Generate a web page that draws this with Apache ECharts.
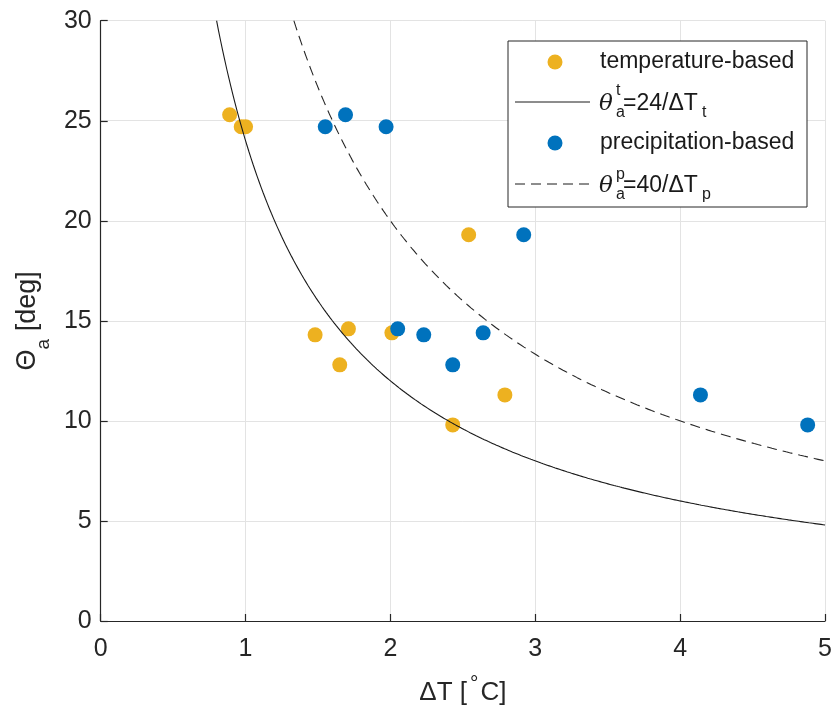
<!DOCTYPE html>
<html>
<head>
<meta charset="utf-8">
<script src="https://cdn.jsdelivr.net/npm/echarts@6/dist/echarts.min.js"></script>
<style>html,body{margin:0;padding:0;background:#fff}#c{width:835px;height:711px}</style>
</head>
<body>
<div id="c"></div>
<script>
// ---- data ----
var tempX = [0.89, 0.97, 1.00, 2.54, 1.48, 1.71, 2.01, 1.65, 2.79, 2.43];
var tempY = [25.3, 24.7, 24.7, 19.3, 14.3, 14.6, 14.4, 12.8, 11.3, 9.8];
var precX = [1.69, 1.55, 1.97, 2.92, 2.23, 2.05, 2.64, 2.43, 4.14, 4.88];
var precY = [25.3, 24.7, 24.7, 19.3, 14.3, 14.6, 14.4, 12.8, 11.3, 9.8];
var coefT = 24;   // theta_a^t = 24 / dT_t
var coefP = 40;   // theta_a^p = 40 / dT_p
var xTicks = [0, 1, 2, 3, 4, 5];
var yTicks = [0, 5, 10, 15, 20, 25, 30];

function pairs(xs, ys) { return xs.map(function (x, i) { return [x, ys[i]]; }); }
function curve(k, yMax, xMax) {
  var out = [], x0 = k / yMax, n = 300;
  for (var i = 0; i <= n; i++) { var x = x0 + (xMax - x0) * i / n; out.push([x, k / x]); }
  return out;
}

var FONT = '"Liberation Sans", Arial, Helvetica, sans-serif';
var TXT = '#262626';
var chart = echarts.init(document.getElementById('c'));

function txt(x, y, s, size, extra) {
  var st = { text: s, x: x, y: y, fill: '#1a1a1a', fontSize: size, fontFamily: FONT, verticalAlign: 'middle', align: 'left' };
  if (extra) for (var k in extra) st[k] = extra[k];
  return { type: 'text', style: st, z: 101 };
}
var LX = 508, LY = 41;
var rows = [62, 103, 143, 185];
var legend = [
  { type: 'rect', shape: { x: LX, y: LY, width: 299, height: 166 }, style: { fill: '#fff', stroke: '#262626', lineWidth: 1 }, z: 100 },
  { type: 'circle', shape: { cx: 555, cy: rows[0], r: 7.5 }, style: { fill: '#EDB120' }, z: 101 },
  txt(600, rows[0], 'temperature-based', 23),
  { type: 'line', shape: { x1: 515, y1: rows[1] - 1, x2: 590, y2: rows[1] - 1 }, style: { stroke: '#1a1a1a', lineWidth: 1 }, z: 101 },
  txt(599, rows[1] + 1, 'θ', 23, { fontStyle: 'italic', fontFamily: '"DejaVu Serif", serif' }),
  txt(616, rows[1] - 12, 't', 16),
  txt(616, rows[1] + 10, 'a', 16),
  txt(623, rows[1] + 1, '=24/ΔT', 23),
  txt(702, rows[1] + 10, 't', 16),
  { type: 'circle', shape: { cx: 555, cy: rows[2], r: 7.5 }, style: { fill: '#0072BD' }, z: 101 },
  txt(600, rows[2], 'precipitation-based', 23),
  { type: 'line', shape: { x1: 515, y1: rows[3] - 1, x2: 590, y2: rows[3] - 1 }, style: { stroke: '#1a1a1a', lineWidth: 1, lineDash: [10, 6] }, z: 101 },
  txt(599, rows[3] + 1, 'θ', 23, { fontStyle: 'italic', fontFamily: '"DejaVu Serif", serif' }),
  txt(616, rows[3] - 10, 'p', 16),
  txt(616, rows[3] + 10, 'a', 16),
  txt(623, rows[3] + 1, '=40/ΔT', 23),
  txt(702, rows[3] + 10, 'p', 16)
];

chart.setOption({
  animation: false,
  backgroundColor: '#fff',
  textStyle: { fontFamily: FONT },
  grid: { left: 100.7, right: 7.7, top: 20.7, bottom: 87.7, containLabel: false },
  xAxis: {
    type: 'value', min: xTicks[0], max: xTicks[xTicks.length - 1], interval: 1,
    name: '{n|ΔT [}{d|°}{n|C]}', nameLocation: 'middle', nameGap: 53,
    nameTextStyle: {
      color: TXT, fontFamily: FONT,
      rich: {
        n: { fontSize: 26, lineHeight: 26, verticalAlign: 'top', padding: [6, 0, 0, 0], color: TXT, fontFamily: FONT },
        d: { fontSize: 21, lineHeight: 21, verticalAlign: 'top', padding: [0, 2, 0, 3], color: TXT, fontFamily: FONT }
      }
    },
    axisLine: { show: true, onZero: false, lineStyle: { color: '#262626', width: 1.2 } },
    axisTick: { show: true, inside: true, length: 7, lineStyle: { color: '#262626', width: 1.2 } },
    axisLabel: { fontSize: 25, color: TXT, margin: 16, fontFamily: FONT },
    splitLine: { show: true, lineStyle: { color: '#e3e3e3', width: 1 } }
  },
  yAxis: {
    type: 'value', min: yTicks[0], max: yTicks[yTicks.length - 1], interval: 5,
    name: '{n|Θ}{s|a}{n| [deg]}', nameLocation: 'middle', nameGap: 52, nameRotate: 90,
    nameTextStyle: {
      color: TXT, fontFamily: FONT,
      rich: {
        n: { fontSize: 27, lineHeight: 27, verticalAlign: 'top', color: TXT, fontFamily: FONT },
        s: { fontSize: 19, lineHeight: 19, verticalAlign: 'top', padding: [20, 0, 0, 0], color: TXT, fontFamily: FONT }
      }
    },
    axisLine: { show: true, onZero: false, lineStyle: { color: '#262626', width: 1.2 } },
    axisTick: { show: true, inside: true, length: 7, lineStyle: { color: '#262626', width: 1.2 } },
    axisLabel: { fontSize: 25, color: TXT, margin: 9, fontFamily: FONT },
    splitLine: { show: true, lineStyle: { color: '#e3e3e3', width: 1 } }
  },
  series: [
    { name: 'temperature-based', type: 'scatter', data: pairs(tempX, tempY), symbolSize: 15,
      itemStyle: { color: '#EDB120', opacity: 1 } },
    { name: 'θ_a^t=24/ΔT_t', type: 'line', data: curve(coefT, 30, 5), showSymbol: false, clip: true,
      lineStyle: { color: '#1a1a1a', width: 1.1 } },
    { name: 'precipitation-based', type: 'scatter', data: pairs(precX, precY), symbolSize: 15,
      itemStyle: { color: '#0072BD', opacity: 1 } },
    { name: 'θ_a^p=40/ΔT_p', type: 'line', data: curve(coefP, 30, 5), showSymbol: false, clip: true,
      lineStyle: { color: '#262626', width: 1.1, type: [10, 6] } }
  ],
  graphic: legend
});
</script>
</body>
</html>
